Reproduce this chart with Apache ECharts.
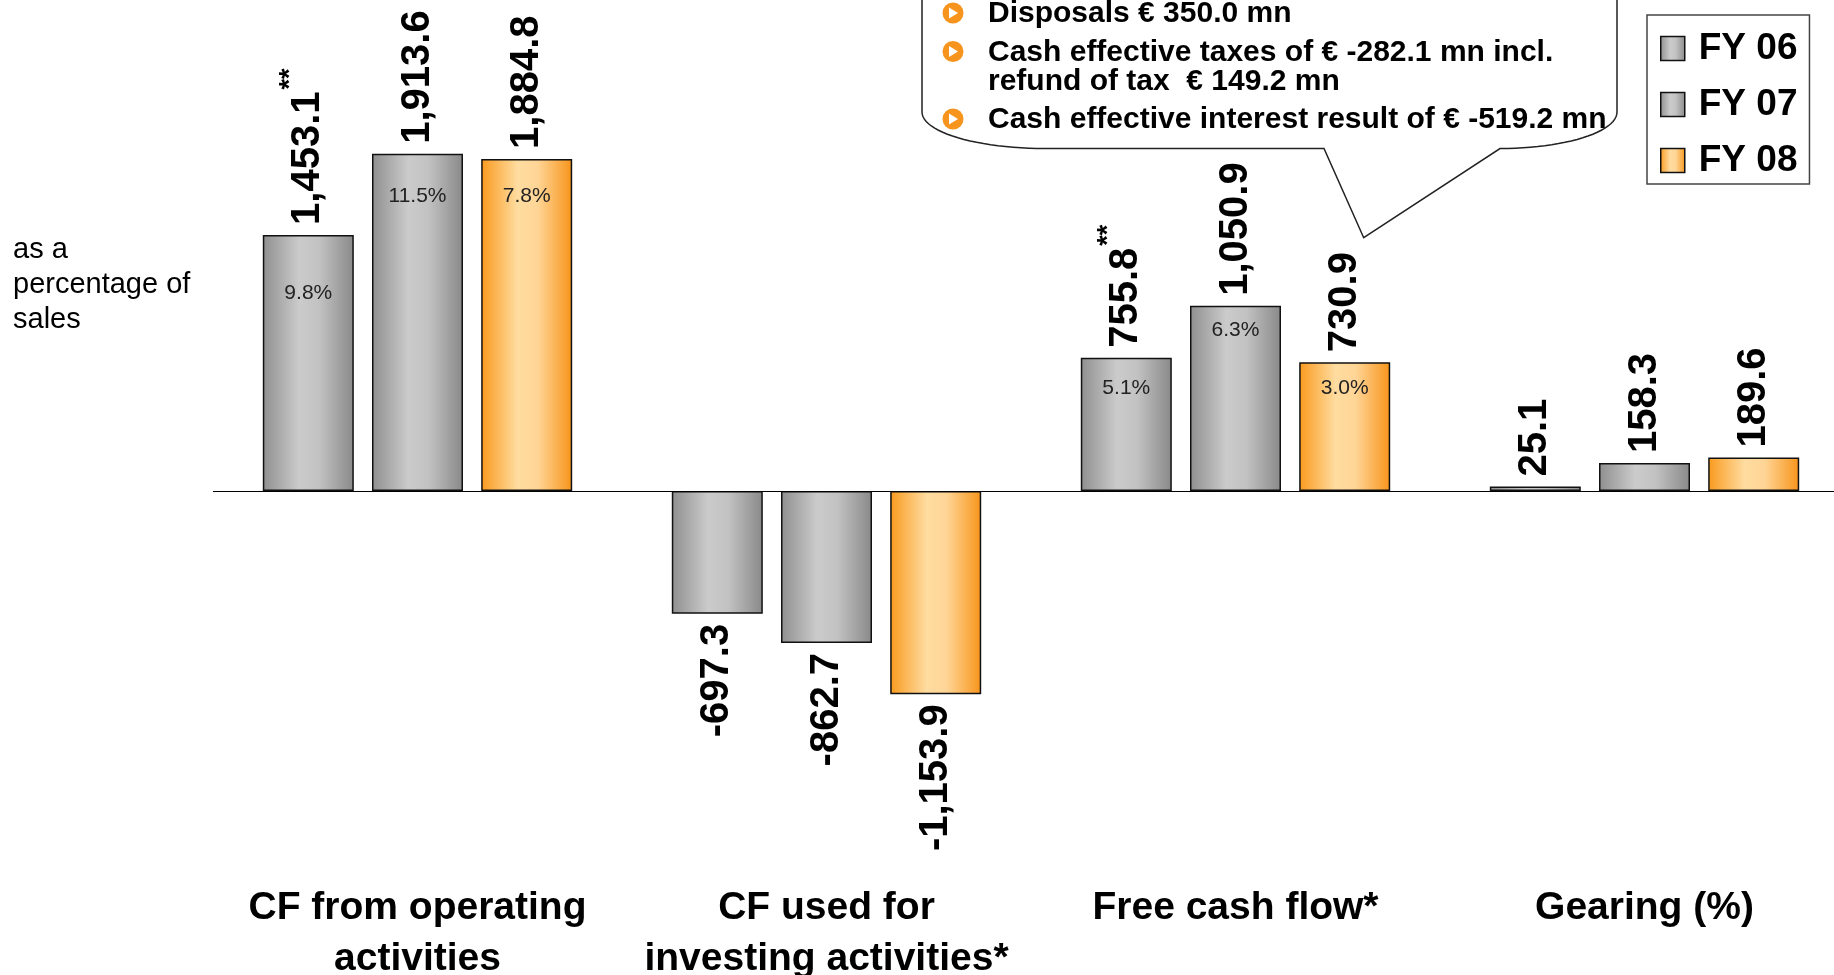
<!DOCTYPE html>
<html>
<head>
<meta charset="utf-8">
<script src="https://cdn.jsdelivr.net/npm/echarts@6/dist/echarts.min.js"></script>
<style>
html,body{margin:0;padding:0;background:#fff;}
#c{width:1834px;height:975px;}
</style>
</head>
<body>
<div id="c"></div>
<script>
// ---- data ----
const categories = ['CF from operating\nactivities', 'CF used for\ninvesting activities*', 'Free cash flow*', 'Gearing (%)'];
const seriesNames = ['FY 06', 'FY 07', 'FY 08'];
const fy06 = [1453.1, -697.3, 755.8, 25.1];
const fy07 = [1913.6, -862.7, 1050.9, 158.3];
const fy08 = [1884.8, -1153.9, 730.9, 189.6];
const fy06Pct = ['9.8%', null, '5.1%', null];
const fy07Pct = ['11.5%', null, '6.3%', null];
const fy08Pct = ['7.8%', null, '3.0%', null];
const fy06Notes = ['**', '', '**', ''];
const calloutLines = ['Disposals € 350.0 mn', 'Cash effective taxes of € -282.1 mn incl.', 'refund of tax  € 149.2 mn', 'Cash effective interest result of € -519.2 mn'];
const calloutBullets = [true, true, false, true];
const sideNote = 'as a\npercentage of\nsales';

// ---- styles ----
const FONT = '"Liberation Sans", Arial, Helvetica, sans-serif';
const pctDrop06 = [48, 0, 20, 0];
const pctDrop07 = [32, 0, 14, 0];
const pctDrop08 = [27, 0, 15, 0];
const calloutY = [14, 52.5, 82, 120];

const grayGrad = {
  type: 'linear', x: 0, y: 0, x2: 1, y2: 0,
  colorStops: [{offset: 0, color: '#8f8f8f'}, {offset: 0.4, color: '#cbcbcb'}, {offset: 0.62, color: '#c2c2c2'}, {offset: 1, color: '#898989'}]
};
const orangeGrad = {
  type: 'linear', x: 0, y: 0, x2: 1, y2: 0,
  colorStops: [{offset: 0, color: '#f99a1e'}, {offset: 0.4, color: '#ffdca0'}, {offset: 0.62, color: '#ffd596'}, {offset: 1, color: '#f7941a'}]
};

function fmt(v) {
  return v.toLocaleString('en-US', {minimumFractionDigits: 1, maximumFractionDigits: 1});
}

function mainSeries(name, vals, fill, notes, withBaseline) {
  const s = {
    name: name, type: 'bar', xAxisIndex: 0, yAxisIndex: 0,
    barWidth: 91, barGap: '20%', z: 2,
    itemStyle: {color: fill, borderColor: '#111', borderWidth: 1.5},
    data: vals.map(v => ({
      value: v,
      label: v >= 0 ? {position: 'top', align: 'left'} : {position: 'bottom', align: 'right'}
    })),
    label: {
      show: true, rotate: 90, distance: 10, verticalAlign: 'middle',
      fontFamily: FONT, fontWeight: 'bold', fontSize: 40, color: '#000',
      formatter: p => {
        const n = notes ? notes[p.dataIndex] : '';
        return '{v|' + fmt(p.value) + '}' + (n ? '{s|' + n + '}' : '');
      },
      rich: {
        v: {fontFamily: FONT, fontWeight: 'bold', fontSize: 40, lineHeight: 62, color: '#000'},
        s: {fontFamily: FONT, fontWeight: 'bold', fontSize: 27, lineHeight: 27, color: '#000', verticalAlign: 'top', padding: [0, 0, 0, 2]}
      }
    }
  };
  if (withBaseline) {
    s.markLine = {
      silent: true, symbol: 'none', animation: false,
      label: {show: false},
      lineStyle: {color: '#000', width: 1.2, type: 'solid'},
      data: [{yAxis: 0}]
    };
  }
  return s;
}

function pctSeries(name, vals, pcts, drops) {
  return {
    name: name + ' %', type: 'bar', xAxisIndex: 1, yAxisIndex: 0,
    barWidth: 91, barGap: '20%', silent: true, z: 4,
    itemStyle: {color: 'rgba(0,0,0,0)', borderWidth: 0},
    data: vals.map((v, i) => ({value: v, label: {show: !!pcts[i], distance: drops[i]}})),
    label: {
      show: true, position: 'insideTop', fontFamily: FONT, fontSize: 21, color: '#222',
      formatter: p => pcts[p.dataIndex] || ''
    }
  };
}

// callout outline (speech bubble) as polygon points
function quarterEllipse(cx, cy, rx, ry, a0, a1, n) {
  const pts = [];
  for (let k = 0; k <= n; k++) {
    const a = a0 + (a1 - a0) * k / n;
    pts.push([cx + rx * Math.cos(a), cy + ry * Math.sin(a)]);
  }
  return pts;
}
const bubble = [];
bubble.push([922, -30]);
quarterEllipse(1045, 112, 123, 36.5, Math.PI, Math.PI / 2, 24).forEach(p => bubble.push(p));
bubble.push([1324, 148.5]);
bubble.push([1363.7, 237.7]);
bubble.push([1500, 148.5]);
quarterEllipse(1500, 112, 117, 36.5, Math.PI / 2, 0, 24).forEach(p => bubble.push(p));
bubble.push([1617, -30]);

const calloutGraphics = [];
calloutGraphics.push({
  type: 'polygon', z: 10,
  shape: {points: bubble},
  style: {fill: '#fff', stroke: '#222', lineWidth: 1.5}
});
calloutLines.forEach((t, i) => {
  const y = calloutY[i];
  if (calloutBullets[i]) {
    calloutGraphics.push({type: 'circle', z: 11, shape: {cx: 953, cy: y - 1, r: 10.5}, style: {fill: '#f7941d'}});
    calloutGraphics.push({type: 'polygon', z: 12, shape: {points: [[949, y - 6.5], [949, y + 4.5], [958, y - 1]]}, style: {fill: '#fff'}});
  }
  calloutGraphics.push({
    type: 'text', z: 11, x: 988, y: y,
    style: {text: t, fontFamily: FONT, fontWeight: 'bold', fontSize: 30, fill: '#000', align: 'left', verticalAlign: 'middle'}
  });
});
calloutGraphics.push({
  type: 'text', z: 11, x: 13, y: 232,
  style: {text: sideNote, fontFamily: FONT, fontSize: 29, lineHeight: 35, fill: '#000', align: 'left', verticalAlign: 'top'}
});

const chart = echarts.init(document.getElementById('c'), null, {renderer: 'canvas'});
chart.setOption({
  animation: false,
  backgroundColor: '#fff',
  grid: {left: 213, top: 138.6, width: 1636, height: 704.8, containLabel: false, outerBoundsMode: 'none'},
  xAxis: [
    {
      type: 'category', data: categories, gridIndex: 0,
      axisLine: {show: false, onZero: false}, axisTick: {show: false}, splitLine: {show: false},
      axisLabel: {interval: 0, margin: 39, fontFamily: FONT, fontWeight: 'bold', fontSize: 39, lineHeight: 51, color: '#000', align: 'center'}
    },
    {type: 'category', data: categories, gridIndex: 0, show: false}
  ],
  yAxis: {type: 'value', min: -2000, max: 2000, interval: 1000, show: false},
  legend: {
    data: seriesNames, orient: 'vertical', left: 1647, top: 15,
    itemWidth: 24, itemHeight: 24, itemGap: 19, icon: 'rect',
    padding: [15, 12, 5, 13], backgroundColor: '#fff', borderColor: '#444', borderWidth: 1.5, borderRadius: 0,
    selectedMode: false,
    itemStyle: {borderColor: '#111', borderWidth: 1.5},
    textStyle: {fontFamily: FONT, fontWeight: 'bold', fontSize: 37, lineHeight: 37, color: '#000', padding: [0, 0, 0, 9]}
  },
  graphic: calloutGraphics,
  series: [
    mainSeries(seriesNames[0], fy06, grayGrad, fy06Notes, true),
    mainSeries(seriesNames[1], fy07, grayGrad, null, false),
    mainSeries(seriesNames[2], fy08, orangeGrad, null, false),
    pctSeries(seriesNames[0], fy06, fy06Pct, pctDrop06),
    pctSeries(seriesNames[1], fy07, fy07Pct, pctDrop07),
    pctSeries(seriesNames[2], fy08, fy08Pct, pctDrop08)
  ]
});
</script>
</body>
</html>
